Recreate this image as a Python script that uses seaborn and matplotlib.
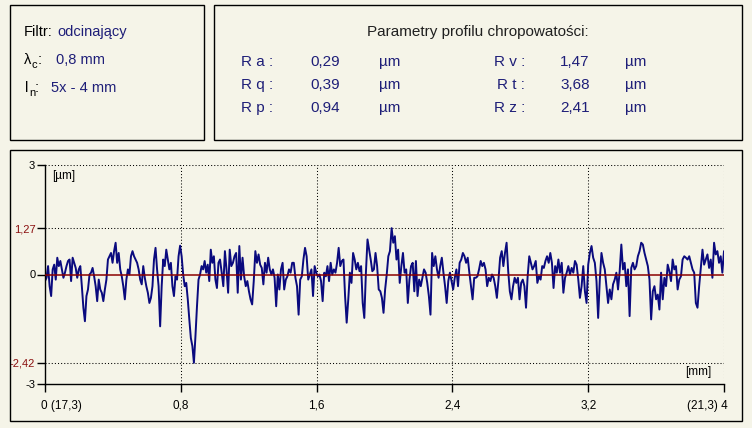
import numpy as np
import pandas as pd
import seaborn as sns
import matplotlib.pyplot as plt
import matplotlib.transforms as mtransforms
from matplotlib.patches import Rectangle

# roughness profile [um] in four stretches along x [mm]
seg1_range = (0.0, 1.031)
seg1 = [-0.18, -0.09, 0.23, -0.32, -0.59, 0.14, 0.27, -0.14, 0.46, 0.23, 0.37, 0.14, -0.09, 0.05,
        0.23, 0.37, 0.41, -0.18, 0.46, 0.32, 0.18, -0.09, 0.14, 0.23, -0.32, -0.91, -1.28, -0.59,
        -0.41, 0.00, 0.05, 0.18, -0.05, -0.32, -0.73, -0.14, -0.41, -0.50, -0.73, -0.41, -0.14,
        0.41, 0.50, 0.59, 0.32, 0.64, 0.87, 0.32, 0.59, 0.14, -0.05, -0.32, -0.68, -0.14, 0.14,
        0.00, 0.50, 0.64, 0.50, 0.41, 0.32, 0.14, -0.14, -0.27, 0.23, -0.09, -0.32, -0.50, -0.78,
        -0.64, -0.32, 0.41, 0.73, 0.14, -0.32, -1.42, -0.32, 0.41, 0.23, 0.68, 0.41, 0.14, 0.32,
        -0.32, -0.59, -0.05, -0.14, 0.50, 0.79, 0.50, 0.00, -0.32, -0.23, -0.68, -1.23, -1.74,
        -1.96, -2.42, -1.69, -0.87, -0.14, 0.00, 0.23, 0.14, 0.37, 0.05, 0.27, -0.18, 0.68, 0.32,
        0.50, -0.14, -0.37, 0.32, 0.41]
seg2_range = (1.041, 2.032)
seg2 = [0.05, -0.32, 0.64, 0.14, -0.50, 0.68, 0.23, 0.32, 0.50, 0.59, -0.50, 0.78, -0.14, 0.46,
        -0.05, -0.32, -0.18, -0.46, -0.68, -0.82, -0.18, 0.64, 0.32, 0.55, 0.27, 0.18, -0.27,
        0.32, 0.05, 0.46, 0.14, 0.00, 0.14, -0.09, -0.87, 0.00, -0.41, 0.14, 0.32, -0.41, -0.14,
        -0.05, 0.14, 0.05, 0.32, 0.32, -0.09, -0.32, -1.10, -0.14, -0.05, 0.41, 0.73, 0.50,
        -0.14, 0.00, 0.14, -0.59, 0.23, 0.05, -0.05, 0.00, -0.18, -0.73, 0.05, -0.05, 0.23,
        -0.18, 0.32, 0.00, 0.14, 0.05, 0.32, 0.73, 0.23, 0.37, 0.41, -0.59, -1.32, -0.68, 0.05,
        -0.23, 0.59, 0.41, 0.14, 0.32, 0.09, 0.23, -0.78, -1.19, 0.05, 0.96, 0.68, 0.41, 0.09,
        0.14, 0.59, 0.23, -0.41, -0.46, -0.64, -1.05, -0.41, 0.00, 0.50, 0.64]
seg3_range = (2.042, 3.034)
seg3 = [1.27, 0.87, 1.05, 0.41, 0.68, -0.23, 0.23, 0.59, 0.05, 0.14, -0.78, -0.14, 0.23, 0.32,
        -0.46, 0.37, -0.59, -0.14, -0.32, -0.09, 0.14, 0.05, -0.23, -0.59, -1.10, 0.59, 0.23,
        0.50, 0.14, -0.09, 0.23, 0.46, 0.05, -0.32, -0.78, -0.18, 0.05, -0.18, -0.41, -0.09,
        0.14, -0.32, 0.32, 0.41, 0.59, 0.50, 0.32, 0.46, 0.05, -0.32, -0.68, -0.09, -0.09, -0.05,
        0.14, 0.37, 0.23, 0.32, 0.14, -0.32, -0.09, -0.18, 0.00, -0.09, -0.32, -0.64, -0.14,
        0.46, 0.64, 0.23, 0.59, 0.87, 0.09, -0.46, -0.68, -0.32, -0.09, -0.23, -0.09, -0.68,
        -0.23, -0.14, -0.32, -0.91, -0.05, 0.50, 0.32, 0.14, 0.23, 0.37, -0.23, -0.05, -0.14,
        0.23, 0.18, 0.37, 0.50, 0.32, 0.59, 0.32, -0.37, 0.23, 0.05, 0.41, 0.05]
seg4_range = (3.044, 4.0)
seg4 = [0.32, -0.50, -0.09, 0.05, 0.23, 0.00, 0.18, 0.05, 0.37, 0.27, -0.14, -0.64, -0.32, 0.23,
        -0.46, -0.78, 0.27, 0.59, 0.78, 0.46, 0.32, -0.18, -1.19, -0.14, 0.59, 0.32, 0.14, -0.32,
        -0.78, -0.41, -0.68, -0.27, -0.14, 0.05, -0.41, 0.09, 0.82, 0.14, 0.32, -0.32, 0.14,
        -1.14, 0.18, 0.32, 0.14, 0.23, 0.50, 0.64, 0.87, 0.82, 0.59, 0.41, 0.23, -0.14, -1.23,
        -0.46, -0.32, -0.68, -0.55, -0.96, 0.05, -0.68, -0.09, -0.32, 0.27, 0.09, -0.18, 0.41,
        0.14, 0.23, -0.41, -0.14, -0.05, 0.41, 0.50, 0.46, 0.41, 0.50, 0.32, 0.14, 0.05, -0.78,
        -0.91, -0.32, 0.18, 0.68, 0.27, 0.41, 0.55, 0.18, 0.41, -0.09, 0.87, 0.55, 0.64, 0.32,
        0.50, 0.05, 0.64]

y_ticks = [-3, -2.42, 0, 1.27, 3]
y_labels = ['-3', '-2,42', '0', '1,27', '3']
x_ticks = [0, 0.8, 1.6, 2.4, 3.2, 4]
x_labels = ['0 (17,3)', '0,8', '1,6', '2,4', '3,2', '(21,3) 4']

param_names_left = ['R a :', 'R q :', 'R p :']
param_vals_left = ['0,29', '0,39', '0,94']
param_names_right = ['R v :', 'R t :', 'R z :']
param_vals_right = ['1,47', '3,68', '2,41']

segs = [(seg1_range, seg1), (seg2_range, seg2), (seg3_range, seg3), (seg4_range, seg4)]
xs = np.concatenate([np.linspace(r[0], r[1], len(v)) for r, v in segs])
ys = np.concatenate([v for r, v in segs])
df = pd.DataFrame({'x': xs, 'y': ys})

bg = '#F5F4E8'
navy = '#1E1E78'
dred = '#8B1010'

sns.set_style('white', {'axes.facecolor': bg, 'figure.facecolor': bg})
plt.rcParams['font.family'] = ['Liberation Sans', 'DejaVu Sans']

W, H = 752, 428
fig = plt.figure(figsize=(W / 100, H / 100), dpi=100)
fig.patch.set_facecolor(bg)


def fx(p):
    return p / W


def fy(p):
    return 1 - p / H


def box(x0, y0, x1, y1):
    fig.add_artist(Rectangle((fx(x0), fy(y1)), fx(x1) - fx(x0), fy(y0) - fy(y1),
                             transform=fig.transFigure, fill=False, edgecolor='black', lw=1))


box(10, 5, 204, 140)
box(214, 5, 742, 140)
box(10, 150, 742, 421)

# left panel: filter info
fs = 10.5
fig.text(fx(24), fy(32), 'Filtr:', fontsize=fs, va='center', color='black')
fig.text(fx(57), fy(32), 'odcinający', fontsize=fs, va='center', color=navy)
fig.text(fx(24), fy(60), 'λ', fontsize=fs, va='center', color='black')
fig.text(fx(32), fy(65), 'c', fontsize=8, va='center', color='black')
fig.text(fx(38), fy(60), ':', fontsize=fs, va='center', color='black')
fig.text(fx(56), fy(60), '0,8 mm', fontsize=fs, va='center', color=navy)
fig.text(fx(25), fy(88), 'l', fontsize=fs, va='center', color='black')
fig.text(fx(29), fy(93), 'n', fontsize=8, va='center', color='black')
fig.text(fx(35), fy(88), ':', fontsize=fs, va='center', color='black')
fig.text(fx(51), fy(88), '5x - 4 mm', fontsize=fs, va='center', color=navy)

# right panel: parameters
pf = 11
fig.text(fx(478), fy(32), 'Parametry profilu chropowatości:', fontsize=pf, ha='center',
         va='center', color='#202020')
row_y = [62, 85, 108]
for i in range(3):
    fig.text(fx(241), fy(row_y[i]), param_names_left[i], fontsize=pf, va='center', color=navy)
    fig.text(fx(310), fy(row_y[i]), param_vals_left[i], fontsize=pf, va='center', color=navy)
    fig.text(fx(379), fy(row_y[i]), 'µm', fontsize=pf, va='center', color=navy)
    fig.text(fx(494 + (3 if i == 1 else 0)), fy(row_y[i]), param_names_right[i], fontsize=pf,
             va='center', color=navy)
    fig.text(fx(560), fy(row_y[i]), param_vals_right[i], fontsize=pf, va='center', color=navy)
    fig.text(fx(625), fy(row_y[i]), 'µm', fontsize=pf, va='center', color=navy)

# profile plot
ax = fig.add_axes([fx(45), fy(384), fx(724) - fx(45), fy(165) - fy(384)])
ax.set_facecolor(bg)
dots = (0, (1, 2))
for yv in [3, 1.27, -2.42]:
    ax.axhline(yv, color='black', lw=0.75, ls=dots, zorder=1)
for xv in x_ticks[1:]:
    ax.axvline(xv, color='black', lw=0.75, ls=dots, zorder=1)

sns.lineplot(data=df, x='x', y='y', ax=ax, color='#0A0A7E', lw=1.4, zorder=2)
ax.axhline(0, color='#8B0000', lw=1.1, zorder=3)

ax.set_xlim(0, 4)
ax.set_ylim(-3, 3)
ax.set_xlabel('')
ax.set_ylabel('')
for s in ['top', 'right']:
    ax.spines[s].set_visible(False)
for s in ['left', 'bottom']:
    ax.spines[s].set_color('black')
    ax.spines[s].set_linewidth(1)

ax.set_yticks(y_ticks)
ax.set_yticklabels(y_labels)
ax.set_xticks(x_ticks)
ax.set_xticklabels(x_labels)
ax.tick_params(axis='y', direction='out', length=5.5, width=1, pad=1.5, labelsize=8,
               colors='black', left=True)
ax.tick_params(axis='x', direction='out', length=5.5, width=1, pad=6, labelsize=8.5,
               colors='black', bottom=True)
for lbl, v in zip(ax.get_yticklabels(), y_ticks):
    if v in (1.27, -2.42):
        lbl.set_color(dred)

xl = ax.get_xticklabels()
xl[0].set_ha('left')
xl[0].set_transform(xl[0].get_transform() + mtransforms.ScaledTranslation(-3 / 72, 0, fig.dpi_scale_trans))
xl[-1].set_ha('right')
xl[-1].set_transform(xl[-1].get_transform() + mtransforms.ScaledTranslation(3 / 72, 0, fig.dpi_scale_trans))

fig.text(fx(52), fy(176), '[µm]', fontsize=8.5, va='center', color='black')
fig.text(fx(685), fy(372), '[mm]', fontsize=8.5, va='center', color='black')

fig.savefig('out.png', dpi=100, facecolor=bg)
